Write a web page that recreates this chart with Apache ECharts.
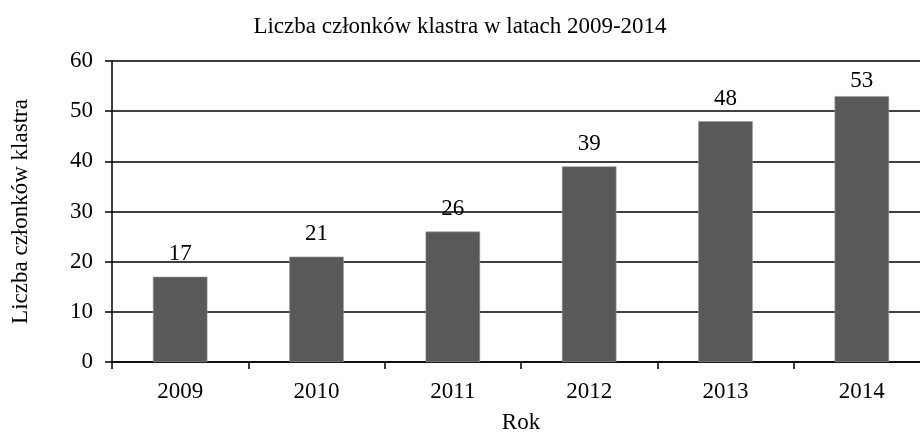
<!DOCTYPE html>
<html>
<head>
<meta charset="utf-8">
<script src="https://cdn.jsdelivr.net/npm/echarts@6/dist/echarts.min.js"></script>
<style>
  html, body { margin: 0; padding: 0; background: #fff; }
  #chart { width: 920px; height: 434px; }
</style>
</head>
<body>
<div id="chart"></div>
<script>
const years = ["2009", "2010", "2011", "2012", "2013", "2014"];
const members = [17, 21, 26, 39, 48, 53];
const yTicks = { min: 0, max: 60, interval: 10 };

const font = "'Liberation Serif', 'Times New Roman', serif";
const chart = echarts.init(document.getElementById("chart"), null, { renderer: "canvas" });

// the tallest bar's label is squeezed closer so it stays under the top line
const peak = Math.max(...members);
const barData = members.map((v) =>
  v === peak ? { value: v, label: { distance: 4 } } : v
);

chart.setOption({
  animation: false,
  title: {
    text: "Liczba członków klastra w latach 2009-2014",
    left: "center",
    top: 10,
    textStyle: { fontFamily: font, fontSize: 23, fontWeight: "normal", color: "#000" },
  },
  // plot runs past the right edge of the picture, as in the reference
  grid: { left: 112, width: 818, top: 61, height: 301, outerBoundsMode: "none", containLabel: false },
  xAxis: {
    type: "category",
    data: years,
    name: "Rok",
    nameLocation: "middle",
    nameGap: 49,
    nameTextStyle: { fontFamily: font, fontSize: 23, color: "#000" },
    axisLine: { lineStyle: { color: "#000", width: 1.5 } },
    axisTick: { show: true, length: 7, lineStyle: { color: "#000", width: 1.5 } },
    axisLabel: { fontFamily: font, fontSize: 23, color: "#000", margin: 18 },
  },
  yAxis: {
    type: "value",
    min: yTicks.min,
    max: yTicks.max,
    interval: yTicks.interval,
    name: "Liczba członków klastra",
    nameLocation: "middle",
    nameGap: 80,
    nameTextStyle: { fontFamily: font, fontSize: 23, color: "#000" },
    axisLine: { show: true, lineStyle: { color: "#000", width: 1.5 } },
    axisTick: { show: true, length: 7, lineStyle: { color: "#000", width: 1.5 } },
    axisLabel: { fontFamily: font, fontSize: 23, color: "#000", margin: 19 },
    splitLine: { lineStyle: { color: "#000", width: 1.5 } },
  },
  series: [
    {
      type: "bar",
      data: barData,
      barWidth: "40%",
      itemStyle: { color: "#595959", borderColor: "#9a9a9a", borderWidth: 0.6 },
      label: {
        show: true,
        position: "top",
        distance: 11,
        fontFamily: font,
        fontSize: 23,
        color: "#000",
      },
    },
  ],
});
</script>
</body>
</html>
